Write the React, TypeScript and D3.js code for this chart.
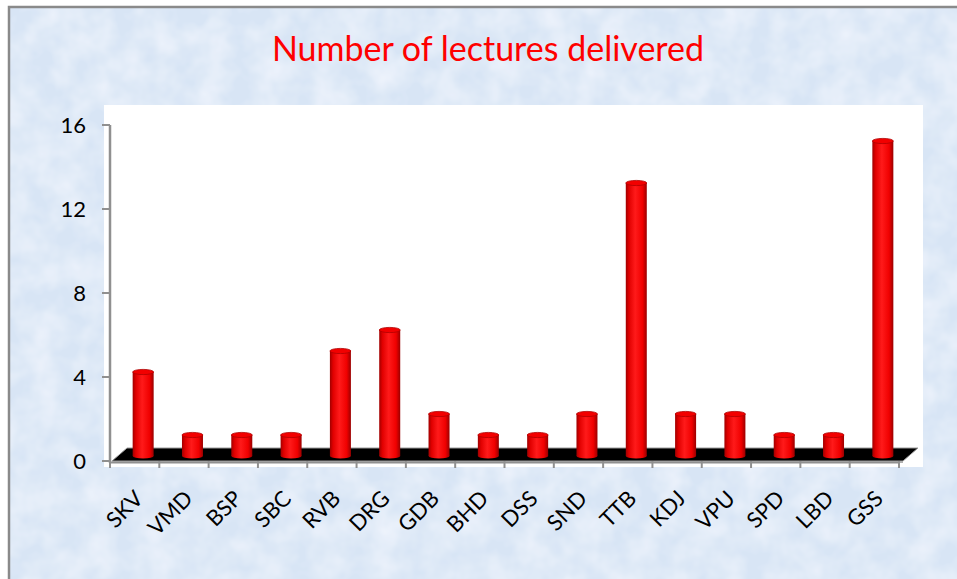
import React from "react";
import * as d3 from "d3";

const categories = ["SKV","VMD","BSP","SBC","RVB","DRG","GDB","BHD","DSS","SND","TTB","KDJ","VPU","SPD","LBD","GSS"];
const values = [4,1,1,1,5,6,2,1,1,2,13,2,2,1,1,15];
const yTicks = [0,4,8,12,16];
const title = "Number of lectures delivered";

const W = 957, H = 579;
const x0 = 110, x1 = 899, yBase = 461, yTop = 125;
const DX = 8.5, DY = -5;
const depthX = 15, depthY = -13;

export default function App() {
  const x = d3.scaleBand<string>().domain(categories).range([x0, x1]).padding(0);
  const y = d3.scaleLinear().domain([0, 16]).range([yBase, yTop]);
  const bw = 21, ry = 2.6;
  const floor = [
    [x0 + 2, yBase],
    [x0 + 2 + depthX, yBase + depthY],
    [x1 + 19, yBase + depthY],
    [x1 + 4, yBase],
  ];
  return (
    <svg width={W} height={H} style={{ position: "absolute", left: 0, top: 0 }} xmlns="http://www.w3.org/2000/svg">
      <defs>
        <filter id="tex" x="0" y="0" width="100%" height="100%">
          <feTurbulence type="fractalNoise" baseFrequency="0.035" numOctaves="3" seed="4" result="n" />
          <feColorMatrix in="n" type="matrix" values="0 0 0 0 0.94  0 0 0 0 0.96  0 0 0 0 1  0 0 0 1 -0.3" result="c" />
          <feComposite in="c" in2="SourceGraphic" operator="over" />
        </filter>
        <linearGradient id="cyl" x1="0" x2="1" y1="0" y2="0">
          <stop offset="0" stopColor="#a00000" />
          <stop offset="0.15" stopColor="#e00000" />
          <stop offset="0.45" stopColor="#ff1a1a" />
          <stop offset="0.8" stopColor="#f00000" />
          <stop offset="1" stopColor="#9a0000" />
        </linearGradient>
      </defs>
      <rect x={0} y={0} width={W} height={H} fill="#ffffff" />
      <rect x={9} y={7} width={W + 20} height={H + 20} fill="#d8e5f5" filter="url(#tex)" />
      <rect x={9} y={7} width={W + 20} height={H + 20} fill="none" stroke="#8a8a8a" strokeWidth={2.5} />
      <text x={488} y={61} textAnchor="middle" fontFamily="Lato, 'Open Sans', sans-serif" fontSize={34} fill="#ff0000">{title}</text>
      <rect x={104} y={105} width={819} height={362} fill="#ffffff" />
      {/* floor */}
      <polygon points={floor.map(p => p.join(",")).join(" ")} fill="#000" stroke="#9a9a9a" strokeWidth={1} />
      <line x1={x0 + 2} y1={yBase + 1} x2={x1 + 4} y2={yBase + 1} stroke="#b0b0b0" strokeWidth={2} />
      {/* y axis */}
      <line x1={x0} y1={yTop} x2={x0} y2={yBase + 2} stroke="#909090" strokeWidth={2.5} />
      {yTicks.map(t => (
        <g key={t}>
          <line x1={x0 - 8} y1={y(t)} x2={x0} y2={y(t)} stroke="#909090" strokeWidth={2} />
          <text x={86} y={y(t)} dy="0.35em" textAnchor="end" fontFamily="Lato, 'Open Sans', sans-serif" fontSize={22} fill="#000">{t}</text>
        </g>
      ))}
      {/* x axis */}
      <line x1={x0} y1={yBase + 1.5} x2={x1} y2={yBase + 1.5} stroke="#909090" strokeWidth={2} />
      {d3.range(categories.length + 1).map(i => {
        const xx = x0 + i * x.bandwidth();
        return <line key={i} x1={xx} y1={yBase} x2={xx} y2={yBase + 7} stroke="#909090" strokeWidth={2} />;
      })}
      {/* bars */}
      {categories.map((c, i) => {
        const cx = (x(c) as number) + x.bandwidth() / 2 + DX;
        const yb = y(0) + DY;
        const yt = y(values[i]) + DY;
        return (
          <g key={c}>
            <ellipse cx={cx} cy={yb} rx={bw / 2} ry={ry} fill="url(#cyl)" />
            <rect x={cx - bw / 2} y={yt} width={bw} height={yb - yt} fill="url(#cyl)" />
            <ellipse cx={cx} cy={yt} rx={bw / 2} ry={ry} fill="#f20000" stroke="#b00000" strokeWidth={0.8} />
          </g>
        );
      })}
      {/* x labels */}
      {categories.map(c => {
        const cx = (x(c) as number) + x.bandwidth() / 2;
        return (
          <text key={c} transform={`translate(${cx + 10},${500}) rotate(-45)`} textAnchor="end" fontFamily="Lato, 'Open Sans', sans-serif" fontSize={22} fill="#000">{c}</text>
        );
      })}
    </svg>
  );
}
